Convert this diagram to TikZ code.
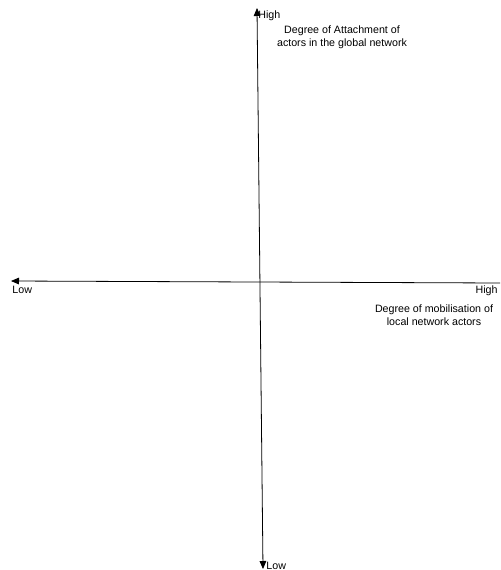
\documentclass[tikz,border=0pt]{standalone}
\usepackage{fontspec}
\setmainfont{Liberation Sans}
\usetikzlibrary{positioning, arrows.meta}

\begin{document}
\begin{tikzpicture}[x=0.75pt, y=-0.75pt, >={Triangle[length=6pt, width=5pt]}, semithick,
    lbl/.style={font=\fontsize{8}{9.5}\selectfont, inner sep=0pt, align=center}]
        \useasboundingbox (0,0) rectangle (500,570);
        \coordinate (top) at (257,8);
        \coordinate (bot) at (263,569);
        \coordinate (lft) at (11,281);
        \coordinate (rgt) at (500,283);

        \draw[<->] (top) -- (bot);
        \draw[<-] (lft) -- (rgt);

        \node[lbl, anchor=west] (vhigh) at (258,16) {High};
        \node[lbl] (vtitle) at (342,37) {Degree of Attachment of\\actors in the global network};
        \node[lbl, anchor=west] (vlow) at (266,566) {Low};
        \node[lbl, anchor=west] (hlow) at (12,290) {Low};
        \node[lbl, anchor=east] (hhigh) at (498,291) {High};
        \node[lbl] (htitle) at (434,315) {Degree of mobilisation of\\local network actors};
      \end{tikzpicture}
\end{document}
